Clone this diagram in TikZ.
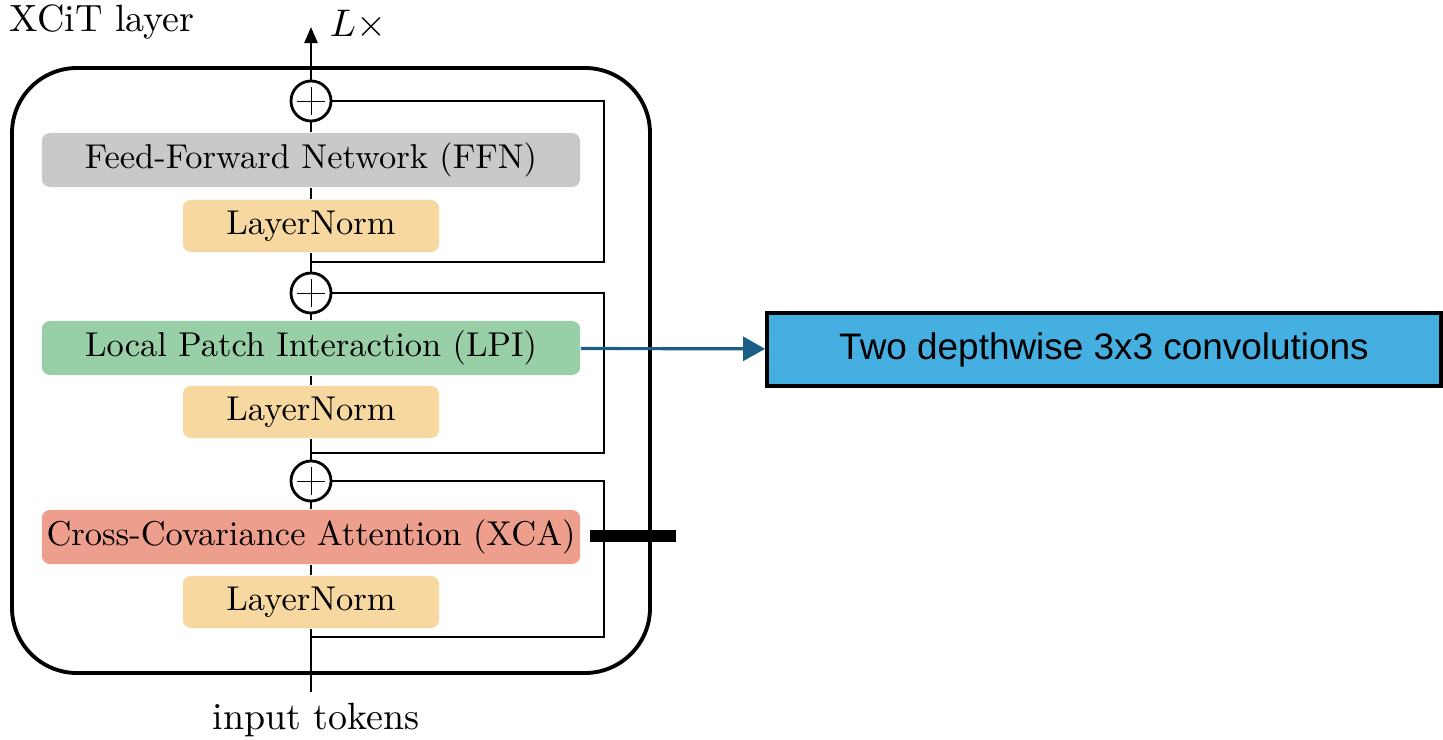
\documentclass[tikz,border=0pt]{standalone}
\usepackage{amsmath}
\usepackage{fontspec}
\newfontfamily\arial{Liberation Sans}
\usetikzlibrary{arrows.meta}

\definecolor{ffngray}{HTML}{C9C9C9}
\definecolor{normorange}{HTML}{F6D8A0}
\definecolor{lpigreen}{HTML}{98CFA6}
\definecolor{xcared}{HTML}{EE9E8C}
\definecolor{convblue}{HTML}{46AFE1}
\definecolor{arrowblue}{HTML}{1B5F86}

\begin{document}
\begin{tikzpicture}[x=0.01cm,y=-0.01cm,
	block/.style={rectangle,rounded corners=0.08cm,inner sep=0,minimum height=0.54cm,font=\fontsize{9.8pt}{12pt}\selectfont},
	wideblock/.style={block,minimum width=5.38cm},
	normblock/.style={block,fill=normorange,minimum width=2.56cm,minimum height=0.52cm},
	addnode/.style={circle,draw=black,fill=white,line width=0.8pt,minimum size=0.4cm,inner sep=0,
		path picture={\draw[very thin] ([xshift=-0.14cm]path picture bounding box.center)--++(0.28cm,0)
			([yshift=-0.14cm]path picture bounding box.center)--++(0,0.28cm);}},
	skipline/.style={line width=0.65pt},
	label/.style={font=\fontsize{10.8pt}{13pt}\selectfont}]
	\useasboundingbox (0,0) rectangle (1443,740);
	
	%FRAME
	\draw[line width=1.1pt,rounded corners=0.65cm] (12,68) rectangle (650,673);
	\fill (590,530) rectangle (676,542);	%thick bar
	
	%BLOCKS
	\node[wideblock,fill=ffngray] (ffn) at (311,160) {Feed-Forward Network (FFN)};
	\node[normblock] (lnA) at (311,226) {LayerNorm};
	\node[wideblock,fill=lpigreen] (lpi) at (311,348) {Local Patch Interaction (LPI)};
	\node[normblock] (lnB) at (311,412) {LayerNorm};
	\node[wideblock,fill=xcared] (xca) at (311,537) {Cross-Covariance Attention (XCA)};
	\node[normblock] (lnC) at (311,602) {LayerNorm};
	%
	\node[addnode] (addA) at (311,101) {};
	\node[addnode] (addB) at (311,293) {};
	\node[addnode] (addC) at (311,481) {};
	
	%MAIN LINE
	\coordinate (in) at (311,692);
	\coordinate (out) at (311,27);
	\foreach \a/\b in {in/lnC,lnC/xca,xca/addC,addC/lnB,lnB/lpi,lpi/addB,addB/lnA,lnA/ffn,ffn/addA}
		\draw[skipline] (\a) -- (\b);
	\draw[skipline,->,>={Triangle[length=0.16cm,width=0.13cm]}] (addA) -- (out);
	
	%RESIDUALS
	\coordinate (skip) at (604,0);
	\coordinate (brA) at (311,637);
	\coordinate (brB) at (311,453);
	\coordinate (brC) at (311,262);
	\draw[skipline] (brA) -- (brA -| skip) |- (addC);
	\draw[skipline] (brB) -- (brB -| skip) |- (addB);
	\draw[skipline] (brC) -- (brC -| skip) |- (addA);
	
	%LABELS
	\node[label] (title) at (102,22) {XCiT layer};
	\node[label] (times) at (358,25) {$L\times$};
	\node[label] (tokens) at (316,720) {input tokens};
	
	%CONVOLUTIONS
	\node[rectangle,draw=black,line width=1pt,fill=convblue,minimum width=6.74cm,minimum height=0.73cm,
		font=\arial\fontsize{10.5pt}{12pt}\selectfont] (conv) at (1104,349.5) {Two depthwise 3x3 convolutions};
	\draw[arrowblue,line width=0.9pt,->,>={Triangle[length=0.22cm,width=0.24cm]}] (lpi) -- (conv);
	
	%\draw[help lines] (0,0) grid[step=100] (1443,740);
\end{tikzpicture}
\end{document}
